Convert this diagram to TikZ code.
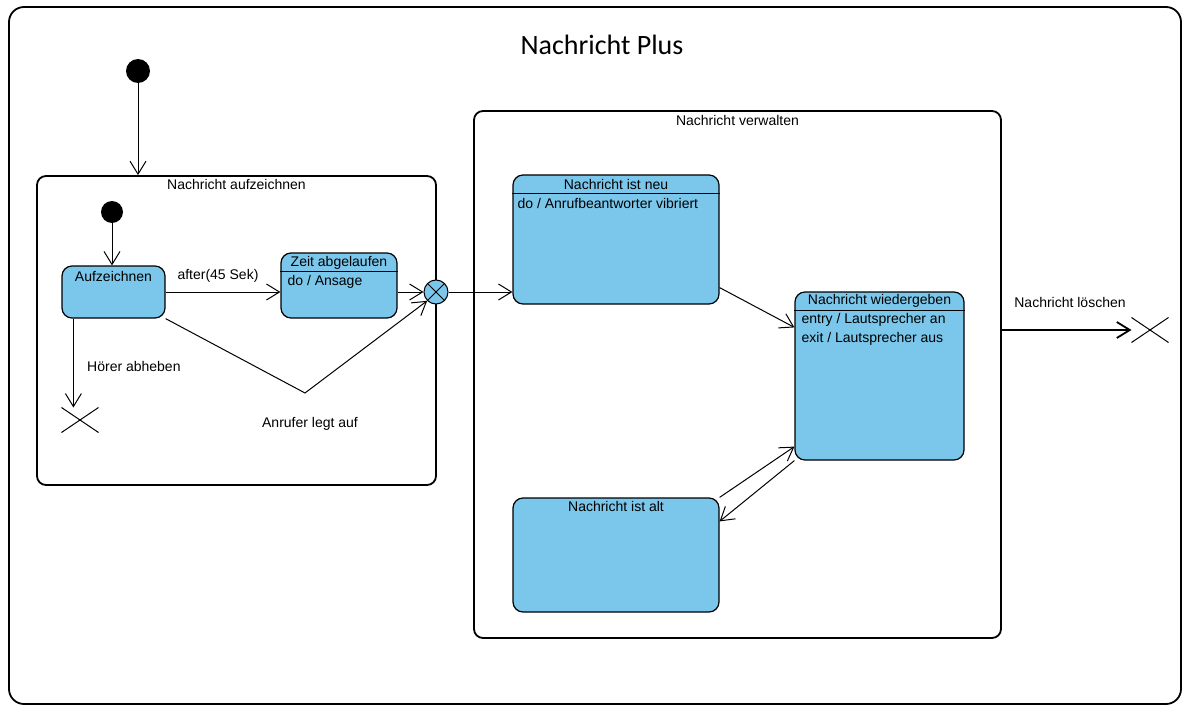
\documentclass[tikz,border=0pt]{standalone}
\usepackage{fontspec}
\setmainfont{Liberation Sans}
\newfontfamily\titlefont{Carlito}
\usetikzlibrary{arrows.meta,shapes.misc}
\definecolor{stblue}{RGB}{122,199,235}
\begin{document}
\begin{tikzpicture}[x=1pt,y=-1pt,line cap=butt,line join=miter,>={Straight Barb[length=13pt,width=16pt]},font=\fontsize{14}{16}\selectfont]
	\tikzset{stbox/.style={draw,fill=stblue,line width=1.2pt,rounded corners=10pt,inner sep=0pt},
		compbox/.style={draw,line width=1.8pt,rounded corners=9pt,inner sep=0pt},
		start/.style={circle,fill=black,inner sep=0pt,minimum size=24pt},
		endx/.style={cross out,draw,line width=1pt,minimum width=36pt,minimum height=24pt,inner sep=0pt},
		txt/.style={inner sep=0pt,anchor=west},
		trans/.style={->,line width=1pt}
	}
	\useasboundingbox (0,0) rectangle (1184,706);
	\node[compbox,rounded corners=15pt,minimum width=1172pt,minimum height=697pt] (plus) at (595,355.5) {};
	\node[font=\titlefont\fontsize{28}{32}\selectfont] (plusT) at (602,45) {Nachricht Plus};
	% Nachricht aufzeichnen
	\node[compbox,minimum width=399pt,minimum height=309pt] (aufz) at (236.5,330.5) {};
	\node (aufzT) at ([yshift=-9pt]aufz.north) {Nachricht aufzeichnen};
	\node[start] (init) at (138,71) {};
	\node[start,minimum size=22pt] (initA) at (112,212) {};
	\node[stbox,minimum width=103pt,minimum height=52pt] (aufState) at (113.5,292) {};
	\node (aufStateT) at ([yshift=-11pt]aufState.north) {Aufzeichnen};
	\node[stbox,minimum width=116pt,minimum height=65pt] (zeit) at (339,285.5) {};
	\node (zeitT) at ([yshift=-10pt]zeit.north) {Zeit abgelaufen};
	\node[txt] (zeitDo) at ([xshift=7pt,yshift=-29pt]zeit.north west) {do / Ansage};
	\node[draw,circle,fill=stblue,line width=1pt,inner sep=0pt,minimum size=24pt] (ex) at (436,292) {};
	\draw[line width=1pt] (ex.45)--(ex.225) (ex.135)--(ex.315);
	\node[endx] (endA) at (80,420) {};
	\coordinate (bend) at (305,393);
	% Nachricht verwalten
	\node[compbox,minimum width=527pt,minimum height=527pt] (nv) at (737.5,374.5) {};
	\node (nvT) at ([yshift=-10pt]nv.north) {Nachricht verwalten};
	\node[stbox,minimum width=206pt,minimum height=129pt] (neu) at (616,239.5) {};
	\node (neuT) at ([yshift=-10pt]neu.north) {Nachricht ist neu};
	\node[txt] (neuDo) at ([xshift=5pt,yshift=-29pt]neu.north west) {do / Anrufbeantworter vibriert};
	\node[stbox,minimum width=169pt,minimum height=168pt] (wied) at (879.5,376) {};
	\node (wiedT) at ([yshift=-9pt]wied.north) {Nachricht wiedergeben};
	\node[txt] (wiedEntry) at ([xshift=7pt,yshift=-28pt]wied.north west) {entry / Lautsprecher an};
	\node[txt] (wiedExit) at ([xshift=7pt,yshift=-47pt]wied.north west) {exit / Lautsprecher aus};
	\node[stbox,minimum width=206pt,minimum height=114pt] (alt) at (616,555) {};
	\node (altT) at ([yshift=-9pt]alt.north) {Nachricht ist alt};
	\foreach \s in {zeit,neu,wied}
		\draw[line width=1pt] ([yshift=-19pt]\s.north west) -- ([yshift=-19pt]\s.north east);
	\node[endx] (endB) at (1150,330) {};
	% labels
	\node (afterL) at (218,276) {after(45 Sek)};
	\node[txt] (hoererL) at (87,366) {Hörer abheben};
	\node (anruferL) at (310,424) {Anrufer legt auf};
	\node (loeschenL) at (1070,302) {Nachricht löschen};
	% transitions
	\draw[trans] (init) -- (init |- aufz.north);
	\draw[trans] (initA) -- (initA |- aufState.north);
	\draw[trans] (aufState.east) -- (aufState.east -| zeit.west);
	\draw[trans] (ex -| zeit.east) -- (ex.west);
	\draw[trans] (aufState.south east) -- (bend) -- (ex.south west);
	\draw[trans] ([xshift=12pt]aufState.south west) -- ([xshift=12pt]aufState.south west |- endA.north);
	\draw[trans] (ex.east) -- (ex -| neu.west);
	\draw[trans] ([yshift=17pt]neu.south east) -- ([yshift=-36pt]wied.north west);
	\draw[trans] (alt.north east) -- ([yshift=14pt]wied.south west);
	\draw[trans] (wied.south west) -- ([yshift=-24pt]alt.north east);
	\draw[trans,line width=1.8pt] (endB -| nv.east) -- (endB.west);
\end{tikzpicture}
\end{document}
